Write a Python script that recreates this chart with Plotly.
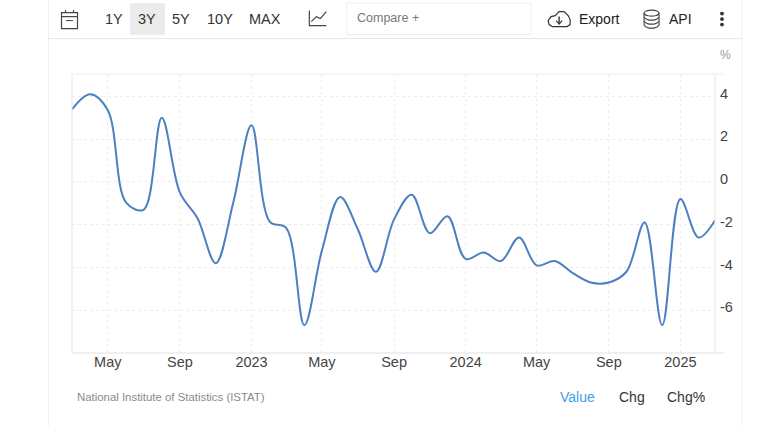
import pandas as pd
import plotly.graph_objects as go

W, H = 768, 426
L, R, T, B = 71.5, 53, 73.5, 73

months = pd.date_range("2022-03-01", "2025-03-01", freq="MS")
values = [3.4, 4.1, 3.35, -0.95, -1.3, 3.0, -0.5, -1.7, -3.8, -0.95, 2.65, -1.85,
          -2.15, -6.7, -3.2, -0.7, -2.2, -4.2, -1.75, -0.6, -2.4, -1.6, -3.6, -3.3,
          -3.7, -2.6, -3.9, -3.7, -4.25, -4.7, -4.7, -4.2, -1.9, -6.7, -0.8, -2.6, -1.8]
x_ticks = ["2022-05-01", "2022-09-01", "2023-01-01", "2023-05-01", "2023-09-01",
           "2024-01-01", "2024-05-01", "2024-09-01", "2025-01-01"]
x_labels = ["May", "Sep", "2023", "May", "Sep", "2024", "May", "Sep", "2025"]
y_ticks = [-6, -4, -2, 0, 2, 4]
y_labels = ["-6", "-4", "-2", "0", "2", "4"]
periods = ["1Y", "3Y", "5Y", "10Y", "MAX"]
period_x = [114, 147, 180.5, 220, 264.5]


# page pixels to paper coordinates, the toolbar sits outside the plot area
def px(x):
    return (x - L) / (W - L - R)


def py(y):
    return 1 - (y - T) / (H - T - B)


def label(x, y, text, size=14, color="#333333", anchor="center"):
    return dict(x=px(x), y=py(y), xref="paper", yref="paper", text=text, showarrow=False,
                xanchor=anchor, yanchor="middle", font=dict(size=size, color=color))


def rect(x0, y0, x1, y1, line="#e6e6e6", fill=None, width=1):
    return dict(type="rect", xref="paper", yref="paper", x0=px(x0), y0=py(y0), x1=px(x1), y1=py(y1),
                line=dict(color=line, width=width), fillcolor=fill, layer="below")


def seg(x0, y0, x1, y1, color="#e6e6e6", width=1):
    return dict(type="line", xref="paper", yref="paper", x0=px(x0), y0=py(y0), x1=px(x1), y1=py(y1),
                line=dict(color=color, width=width))


def path(points, color="#333333", width=1.2):
    d = "M " + " L ".join(f"{px(a):.4f},{py(b):.4f}" for a, b in points)
    return dict(type="path", xref="paper", yref="paper", path=d, line=dict(color=color, width=width))


def oval(x, y, rx, ry, color="#333333", fill=None, width=1.2):
    return dict(type="circle", xref="paper", yref="paper", x0=px(x - rx), y0=py(y - ry), x1=px(x + rx), y1=py(y + ry),
                line=dict(color=color, width=width), fillcolor=fill)


# lower half of the database icon discs
def arc(y):
    return path([(644, y), (646, y + 2), (649, y + 3), (654, y + 3), (657, y + 2), (659, y)], "#444444", 1.1)


fig = go.Figure(go.Scatter(x=months, y=values, mode="lines", hoverinfo="skip", showlegend=False,
                           line=dict(color="#4c80c0", width=2, shape="spline", smoothing=1.0)))

shapes = [
    # panel frame
    seg(48, 0, 48, 426, "#f0f0f0"), seg(742, 0, 742, 426, "#f0f0f0"), seg(48, 38, 742, 38, "#e6e6e6"),
    # toolbar
    rect(130, 3, 164, 34, "#ebebeb", "#ebebeb"),
    rect(346.5, 2.5, 531, 34, "#eeeeee"),
    # calendar icon
    rect(61, 12, 77, 28, "#444444", None, 1.2), seg(61, 16, 77, 16, "#444444", 1.2),
    seg(65, 9.5, 65, 12, "#444444", 1.2), seg(73, 9.5, 73, 12, "#444444", 1.2),
    seg(65.5, 20, 72.5, 20, "#444444", 1),
    # line chart icon
    path([(309, 10), (309, 25), (326, 25)], "#444444"),
    path([(311, 21), (316, 16), (320, 18), (326, 11)], "#444444"),
    # export cloud
    path([(552, 26), (549, 24), (548, 20), (551, 16), (555, 15), (559, 11), (564, 11), (568, 15),
          (570, 19), (570, 24), (567, 26), (552, 26)], "#333333"),
    seg(559, 16, 559, 23, "#333333", 1.4), path([(556, 20), (559, 23.5), (562, 20)], "#333333"),
    # api database
    oval(651.5, 12.5, 7.5, 3, "#444444", None, 1.1),
    seg(644, 12.5, 644, 25, "#444444", 1.1), seg(659, 12.5, 659, 25, "#444444", 1.1),
    arc(16.5), arc(20.5), arc(24.5),
    # menu dots
    oval(722, 13, 1.3, 1.3, "#333333", "#333333"), oval(722, 18.5, 1.3, 1.3, "#333333", "#333333"),
    oval(722, 24, 1.3, 1.3, "#333333", "#333333"),
    # plot frame, top and bottom run past the right axis
    seg(71.5, 73.5, 724, 73.5, "#eeeeee"), seg(71.5, 353, 724, 353, "#e0e0e0"),
    seg(71.5, 73.5, 71.5, 353, "#e6e6e6"), seg(715, 73.5, 715, 353, "#e6e6e6"),
]

annotations = [label(x, 18.5, t, 14.5) for x, t in zip(period_x, periods)]
annotations += [
    label(355, 17.5, "Compare +", 12.5, "#777777", "left"),
    label(577, 18.5, "Export", 14, "#222222", "left"),
    label(667, 18.5, "API", 14, "#222222", "left"),
    label(725.5, 54, "%", 12, "#999999"),
    label(75, 397, "National Institute of Statistics (ISTAT)", 11.4, "#8a8a8a", "left"),
    label(577, 397, "Value", 14, "#42a0e8"),
    label(632, 397, "Chg", 14, "#333333"),
    label(686, 397, "Chg%", 14, "#333333"),
]

fig.update_layout(
    width=W, height=H,
    margin=dict(l=L, r=R, t=T, b=B, pad=0),
    paper_bgcolor="white", plot_bgcolor="white",
    font=dict(family="Liberation Sans", size=14.5, color="#444444"),
    shapes=shapes, annotations=annotations,
    xaxis=dict(range=["2022-03-01", "2025-03-01"], tickvals=x_ticks, ticktext=x_labels, tickangle=0,
               showgrid=True, gridcolor="#eeeeee", griddash="dot", gridwidth=1, zeroline=False,
               ticks="", showline=False, ticklabelstandoff=-2),
    yaxis=dict(range=[-8.0, 5.05], tickvals=y_ticks, ticktext=y_labels, side="right", showgrid=True,
               gridcolor="#eeeeee", griddash="dot", gridwidth=1, zeroline=False, ticks="", showline=False,
               ticklabelstandoff=4, ticklabelshift=-3),
)

fig.write_html("out.html", config=dict(displayModeBar=False),
               post_script="document.body.style.margin = '0';")
